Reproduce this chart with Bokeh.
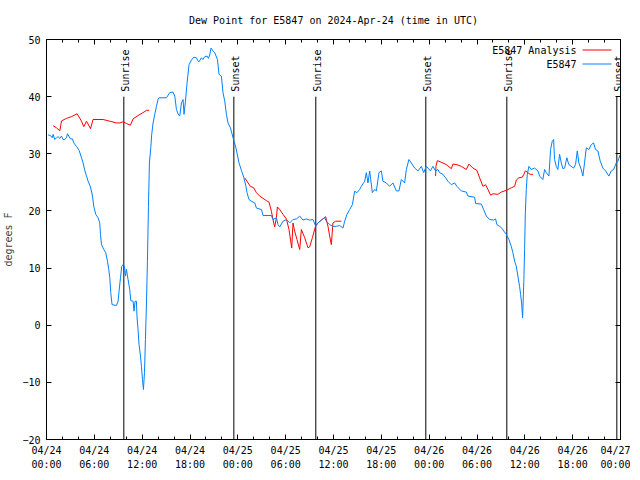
import math
from bokeh.plotting import figure
from bokeh.models import Range1d, LinearAxis, FixedTicker, Label, BoxAnnotation
from bokeh.core.properties import value
from bokeh.embed import file_html
from bokeh.resources import INLINE

FONT = "DejaVu Sans Mono"
NAN = float("nan")

# hours since 2024-04-24 00:00 UTC
blue_t = [0.20, 0.50, 0.70, 0.83, 1.04, 1.25, 1.45, 1.67, 1.88, 2.08,
          2.29, 2.51, 2.63, 2.80, 3.01, 3.26, 3.42, 3.76, 4.09, 4.39,
          4.59, 4.80, 5.02, 5.22, 5.52, 5.77, 5.93, 6.18, 6.47, 6.68,
          6.77, 6.90, 7.18, 7.43, 7.65, 7.81, 7.94, 8.06, 8.22, 8.78,
          8.98, 9.10, 9.28, 9.44, 9.60, 9.78, 9.90, 10.03, 10.23, 10.44,
          10.57, 10.86, 10.98, 11.11, 11.28, 11.36, 11.48, 11.61, 11.79, 11.91,
          12.04, 12.16, 12.29, 12.41, 12.54, 12.66, 12.79, 12.91, 13.08, 13.20,
          13.37, 13.58, 13.79, 13.99, 14.12, 15.05, 15.46, 15.87, 16.09, 16.30,
          16.50, 16.71, 16.93, 17.13, 17.25, 17.43, 17.63, 17.88, 18.18, 18.47,
          18.81, 18.97, 19.13, 19.43, 19.63, 19.85, 20.14, 20.31, 20.47, 20.64,
          20.89, 21.10, 21.44, 21.64, 21.94, 22.14, 22.36, 22.57, 22.77, 23.07,
          23.40, 23.77, 24.15, 24.45, 24.74, 24.99, 25.15, 25.40, 25.70, 26.12,
          26.33, 26.96, 27.16, 28.21, 28.41, 28.84, 29.04, 29.25, 29.67, 30.09,
          30.51, 30.92, 31.35, 31.76, 32.17, 32.60, 33.01, 33.43, 33.77, 34.05,
          34.48, 34.89, 35.11, 35.52, 35.93, 36.36, 36.77, 37.19, 37.40, 37.69,
          38.03, 38.37, 38.65, 38.94, 39.28, 39.49, 39.91, 40.12, 40.32, 40.54,
          40.87, 41.16, 41.38, 41.70, 42.00, 42.20, 42.63, 43.04, 43.46, 43.88,
          44.21, 44.51, 44.92, 45.14, 45.46, 45.76, 46.18, 46.59, 47.02, 47.31,
          47.64, 47.85, 48.15, 48.47, 48.81, 49.10, 49.31, 49.73, 50.06, 50.35,
          50.78, 51.19, 51.48, 52.03, 52.66, 52.86, 53.70, 53.83, 54.54, 54.83,
          55.17, 55.58, 56.08, 56.33, 56.50, 56.84, 57.17, 57.34, 57.68, 58.00,
          58.30, 58.50, 58.72, 58.93, 59.13, 59.34, 59.47, 59.59, 59.72, 59.81,
          59.88, 59.97, 60.06, 60.18, 60.31, 60.51, 60.81, 61.22, 61.64, 61.85,
          62.26, 62.48, 62.69, 63.02, 63.23, 63.44, 63.61, 63.73, 63.94, 64.14,
          64.36, 64.57, 64.77, 64.99, 65.27, 65.52, 65.82, 66.11, 66.36, 66.58,
          66.78, 67.08, 67.28, 67.49, 67.71, 68.03, 68.33, 68.62, 68.87, 69.16,
          69.46, 69.79, 70.13, 70.54, 70.84, 71.13, 71.47, 71.67, 71.97]
blue_v = [33.3, 33.2, 32.8, 33.4, 32.5, 32.8, 33.0, 32.7, 33.1, 32.5,
          32.5, 32.8, 33.5, 33.1, 32.6, 32.6, 31.9, 31.3, 30.6, 29.3,
          28.4, 27.1, 26.1, 25.2, 24.2, 22.6, 20.8, 19.4, 18.8, 17.9,
          15.9, 14.1, 13.25, 12.7, 11.2, 9.75, 8.3, 5.7, 3.6, 3.45,
          4.2, 5.95, 8.3, 10.3, 10.6, 10.3, 8.6, 9.75, 8.0, 6.25,
          4.3, 4.2, 2.45, 4.2, 4.2, 1.3, -0.75, -3.4, -5.4, -7.2,
          -9.5, -11.25, -8.3, -2.5, 3.9, 11.2, 20.8, 28.4, 31.05, 33.4,
          35.4, 36.9, 38.3, 39.5, 39.8, 39.8, 40.7, 40.8, 40.1, 37.75,
          37.0, 36.6, 38.9, 39.5, 36.9, 39.2, 42.4, 45.6, 46.4, 46.9,
          46.8, 46.3, 46.1, 46.8, 46.5, 47.0, 47.1, 46.7, 47.3, 48.5,
          48.0, 47.7, 46.5, 43.9, 43.6, 40.7, 39.2, 36.9, 35.4, 34.55,
          32.8, 31.0, 28.4, 27.1, 25.9, 24.5, 23.2, 22.0, 21.7, 21.4,
          20.5, 20.25, 19.2, 19.2, 18.5, 18.8, 17.6, 17.2, 18.2, 18.5,
          17.9, 18.5, 18.6, 19.1, 18.4, 18.6, 18.4, 18.5, 17.3, 17.9,
          18.4, 18.8, 18.2, 17.6, 17.3, 17.3, 17.45, 17.0, 18.2, 19.4,
          20.25, 21.1, 23.45, 23.2, 23.75, 24.3, 25.2, 26.7, 24.9, 27.0,
          23.2, 23.75, 23.5, 26.7, 27.0, 25.2, 24.9, 24.3, 24.9, 23.5,
          23.5, 25.5, 24.9, 27.25, 29.0, 28.4, 27.5, 27.0, 27.8, 26.7,
          27.8, 27.5, 27.0, 27.8, 27.0, 27.25, 26.7, 26.4, 25.8, 25.2,
          24.6, 24.9, 24.3, 23.5, 23.3, 22.6, 22.4, 21.3, 21.2, 20.25,
          19.1, 18.5, 18.4, 18.6, 17.6, 17.3, 16.9, 16.5, 15.9, 15.0,
          13.8, 12.7, 11.2, 10.3, 8.6, 6.8, 5.4, 3.9, 1.3, 5.1,
          8.0, 13.25, 19.4, 23.75, 26.4, 27.8, 27.25, 27.5, 27.0, 26.1,
          25.5, 27.25, 26.7, 26.1, 30.75, 32.2, 32.5, 29.0, 27.8, 27.25,
          29.9, 28.4, 27.4, 27.5, 29.3, 28.1, 27.8, 27.5, 28.1, 30.5,
          28.4, 27.25, 26.1, 28.4, 31.05, 30.75, 31.6, 31.9, 30.75, 30.5,
          28.7, 27.5, 27.0, 26.1, 27.0, 27.25, 28.4, 28.7, 29.9]

red_t = [0.83, 1.25, 1.67, 1.88, 2.51, 3.13, 3.84, 4.39, 4.68, 5.02,
         5.52, 5.84, 7.10, 7.94, 8.78, 9.19, 9.60, 10.03, 10.53, 10.86,
         11.48, 12.11, 12.54, 12.86, NAN,
         24.86, 25.28, 25.58, 25.99, 26.33, 26.74, 27.16, 27.58, 27.91, 28.21,
         28.41, 28.62, 28.84, 28.96, 29.25, 29.67, 30.09, 30.42, 30.76, 30.92,
         31.13, 31.42, 31.76, 31.97, 32.39, 32.80, 33.01, 33.35, 33.77, 34.05,
         34.48, 35.02, 35.31, 35.52, 35.73, 35.93, 36.27, 36.99, NAN,
         48.81, 48.85, 49.02, 49.73, 50.15, 50.78, 50.98, 51.48, 52.03, 52.66,
         52.99, 53.49, 53.99, 54.33, 54.75, 55.08, 55.37, 55.71, 56.00, 56.62,
         57.05, 57.68, 58.30, 58.72, 58.93, 59.25, 59.68, 59.88, 60.06, 60.31,
         60.51, 60.68, 61.01]
red_v = [34.9, 34.55, 34.0, 35.75, 36.2, 36.5, 37.0, 35.7, 34.75, 35.7,
         34.4, 36.0, 36.0, 35.7, 35.4, 35.4, 35.6, 35.3, 35.0, 36.1,
         36.7, 37.2, 37.6, 37.6, NAN,
         25.8, 24.9, 24.3, 24.05, 23.2, 22.6, 22.2, 21.8, 21.55, 19.95,
         18.5, 17.2, 18.8, 20.7, 20.25, 19.4, 18.6, 16.75, 13.5, 17.9,
         16.45, 15.0, 13.25, 16.75, 15.3, 13.55, 13.7, 15.3, 17.45, 17.9,
         18.4, 19.0, 17.3, 15.6, 14.1, 17.9, 18.2, 18.2, NAN,
         26.1, 27.8, 28.8, 28.4, 28.1, 27.4, 28.2, 28.1, 27.8, 27.25,
         28.2, 27.5, 27.1, 25.8, 24.3, 24.6, 23.75, 22.75, 23.0, 22.9,
         23.3, 23.6, 24.05, 24.3, 25.4, 25.8, 25.9, 26.4, 27.0, 26.8,
         26.55, 26.4, 26.4]

sunrise_t = [9.70, 33.78, 57.74]
sunset_t = [23.50, 47.58, 71.54]
sun_top = 40
y_min, y_max = -20, 50
x_min, x_max = 0, 72

x_ticks = [0, 6, 12, 18, 24, 30, 36, 42, 48, 54, 60, 66, 72]
x_minor = [h for h in range(0, 73, 2)]
x_labels = ["04/24\n00:00", "04/24\n06:00", "04/24\n12:00", "04/24\n18:00",
            "04/25\n00:00", "04/25\n06:00", "04/25\n12:00", "04/25\n18:00",
            "04/26\n00:00", "04/26\n06:00", "04/26\n12:00", "04/26\n18:00",
            "04/27\n00:00"]
y_ticks = [-20, -10, 0, 10, 20, 30, 40, 50]

p = figure(frame_width=574, frame_height=400,
           x_range=Range1d(x_min, x_max), y_range=Range1d(y_min, y_max),
           output_backend="svg", toolbar_location=None,
           x_axis_location=None, y_axis_location=None,
           min_border_left=40, min_border_right=10,
           min_border_top=39, min_border_bottom=10)
p.grid.visible = False
p.background_fill_color = "white"
p.border_fill_color = "white"
p.outline_line_color = "black"

p.title.text = "Dew Point for E5847 on 2024-Apr-24 (time in UTC)"
p.title.align = "center"
p.title.vertical_align = "top"
p.title.text_font = FONT
p.title.text_font_size = "10px"
p.title.text_font_style = "normal"
p.title.text_color = "black"
p.title.standoff = 24


def style_axis(ax, show_labels):
    ax.axis_line_color = "black"
    ax.major_tick_line_color = "black"
    ax.minor_tick_line_color = "black"
    ax.major_tick_in = 5
    ax.major_tick_out = 0
    ax.minor_tick_in = 3
    ax.minor_tick_out = 0
    ax.major_label_text_font = FONT
    ax.major_label_text_font_size = "10px"
    ax.major_label_text_color = "black"
    if not show_labels:
        ax.major_label_standoff = 0
        ax.axis_label_standoff = 0


xmap = dict(zip(x_ticks, x_labels))
bottom = LinearAxis(ticker=FixedTicker(ticks=x_ticks, minor_ticks=x_minor),
                    major_label_overrides=xmap)
style_axis(bottom, True)
bottom.major_label_standoff = 5
bottom.major_label_text_line_height = 1.3
p.add_layout(bottom, "below")

top = LinearAxis(ticker=FixedTicker(ticks=x_ticks, minor_ticks=x_minor),
                 major_label_overrides={t: "" for t in x_ticks})
style_axis(top, False)
p.add_layout(top, "above")

left = LinearAxis(ticker=FixedTicker(ticks=y_ticks, minor_ticks=[]),
                  axis_label="degrees F")
style_axis(left, True)
left.major_label_standoff = 6
left.axis_label_text_font = FONT
left.axis_label_text_font_size = "10px"
left.axis_label_text_font_style = "normal"
left.axis_label_standoff = 5
p.add_layout(left, "left")

right = LinearAxis(ticker=FixedTicker(ticks=y_ticks, minor_ticks=[]),
                   major_label_overrides={t: "" for t in y_ticks})
style_axis(right, False)
p.add_layout(right, "right")

# sunrise / sunset markers
sun_t = sunrise_t + sunset_t
sun_lbl = ["Sunrise"] * len(sunrise_t) + ["Sunset"] * len(sunset_t)
p.segment(x0=sun_t, y0=[y_min] * len(sun_t), x1=sun_t, y1=[sun_top] * len(sun_t),
          line_color="black", line_width=1)
p.text(x=sun_t, y=[sun_top] * len(sun_t), text=sun_lbl, angle=math.pi / 2,
       text_align="left", text_baseline="middle", y_offset=-5, x_offset=2,
       text_font=value(FONT), text_font_size="10px", text_color="black")

# data lines
p.line(red_t, red_v, line_color="#ff0000", line_width=1)
p.line(blue_t, blue_v, line_color="#0080ff", line_width=1)

# legend (text left of sample, gnuplot style)
leg_items = [("E5847 Analysis", "#ff0000"), ("E5847", "#0080ff")]
for i, (name, col) in enumerate(leg_items):
    ys = 389 - 14 * i
    p.add_layout(Label(x=530, y=ys, x_units="screen", y_units="screen", text=name,
                       text_align="right", text_baseline="middle",
                       text_font=FONT, text_font_size="10px", text_color="black"))
    p.add_layout(BoxAnnotation(left=536, right=565, bottom=ys, top=ys + 1,
                               left_units="screen", right_units="screen",
                               bottom_units="screen", top_units="screen",
                               fill_color=col, fill_alpha=1.0, line_color=None))

open("out.html", "w").write(file_html(p, INLINE))
